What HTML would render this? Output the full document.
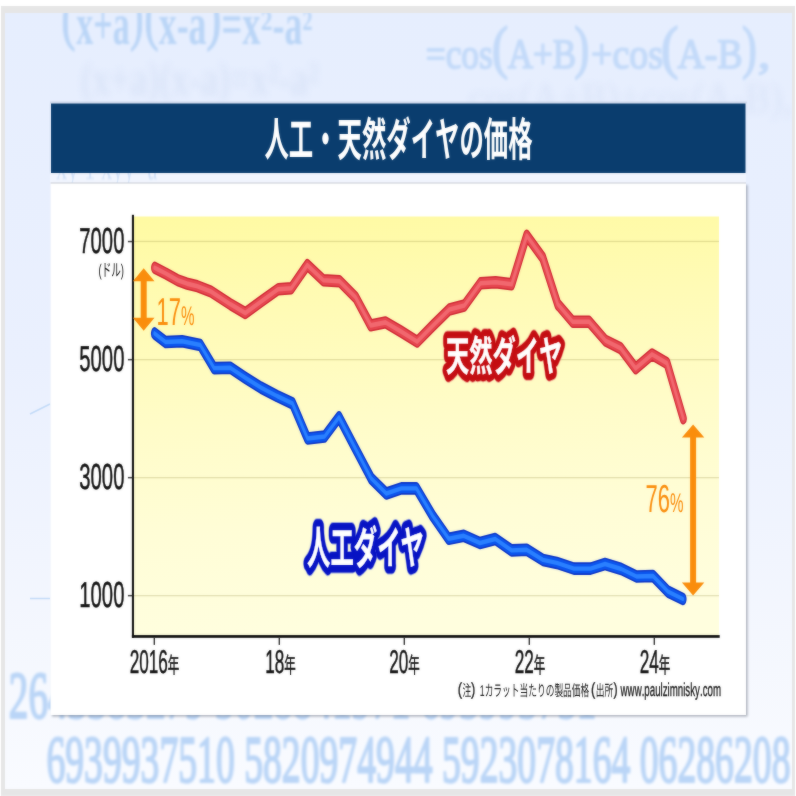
<!DOCTYPE html>
<html lang="ja"><head><meta charset="utf-8"><title>人工・天然ダイヤの価格</title>
<style>html,body{margin:0;padding:0;background:#fff;}body{width:796px;height:796px;overflow:hidden;font-family:"Liberation Sans",sans-serif;}svg{display:block;}text{font-family:"Liberation Sans",sans-serif;font-kerning:none;text-rendering:geometricPrecision;}.sans{font-family:"Liberation Sans",sans-serif;}.ser{font-family:"Liberation Serif",serif;}.cjk{font-family:"Liberation Sans","Noto Sans CJK JP",sans-serif;}</style>
</head><body>
<svg width="796" height="796" viewBox="0 0 796 796">
<defs>
<linearGradient id="bg" x1="0" y1="0" x2="0" y2="1"><stop offset="0" stop-color="#e6eefe"/><stop offset="0.45" stop-color="#eaf0fe"/><stop offset="0.8" stop-color="#f4f7fe"/><stop offset="1" stop-color="#f9fbff"/></linearGradient>
<linearGradient id="yel" x1="0" y1="0" x2="0.08" y2="1"><stop offset="0" stop-color="#fffaa2"/><stop offset="0.25" stop-color="#fffbb6"/><stop offset="0.5" stop-color="#fffcc8"/><stop offset="0.75" stop-color="#fffdd6"/><stop offset="1" stop-color="#fffede"/></linearGradient>
<filter id="b1" x="-5%" y="-20%" width="110%" height="140%"><feGaussianBlur stdDeviation="1"/></filter>
<filter id="b3" x="-5%" y="-30%" width="110%" height="160%"><feGaussianBlur stdDeviation="3 3.5"/></filter>
<filter id="sh" x="-5%" y="-5%" width="110%" height="110%"><feGaussianBlur stdDeviation="1.1"/></filter>
<filter id="soft" x="0" y="0" width="796" height="796" filterUnits="userSpaceOnUse" color-interpolation-filters="sRGB"><feGaussianBlur stdDeviation="1" result="b"/><feComposite in="SourceGraphic" in2="b" operator="arithmetic" k1="0" k2="0.62" k3="0.38" k4="0"/></filter>
<clipPath id="cbg"><rect x="5" y="13" width="787" height="776"/></clipPath>
</defs>
<rect width="796" height="796" fill="#ffffff"/>
<g filter="url(#soft)">
<rect x="1" y="6" width="794" height="790" fill="#e6e6e6"/>
<rect x="5" y="13" width="787" height="776" fill="url(#bg)"/>
<g clip-path="url(#cbg)">
<g fill="#bad5f7" filter="url(#b1)">
<text class="ser" font-weight="bold" font-size="59" transform="translate(76.3 44.3) scale(0.5760 1.0000)">x+a</text>
<text class="ser" font-weight="bold" font-size="59" transform="translate(158.7 44.3) scale(0.6088 1.0000)">x-a</text>
<text class="ser" font-weight="bold" font-size="59" transform="translate(221.5 44.3) scale(0.6164 1.0000)">=x</text>
<text class="ser" font-weight="bold" font-size="59" transform="translate(272.5 44.3) scale(0.6053 1.0000)">-a</text>
<text class="ser" font-size="62" transform="translate(61.4 38.3) scale(0.6657 1.0000)" stroke="#bad5f7" stroke-width="1.4">(</text>
<text class="ser" font-size="62" transform="translate(130.3 38.3) scale(0.6343 1.0000)" stroke="#bad5f7" stroke-width="1.4">)</text>
<text class="ser" font-size="62" transform="translate(144.5 38.3) scale(0.6719 1.0000)" stroke="#bad5f7" stroke-width="1.4">(</text>
<text class="ser" font-size="62" transform="translate(206.4 38.3) scale(0.7096 1.0000)" stroke="#bad5f7" stroke-width="1.4">)</text>
<text class="ser" font-weight="bold" font-size="28.5" transform="translate(260.7 29.9) scale(0.8285 1.0000)">2</text>
<text class="ser" font-weight="bold" font-size="28.5" transform="translate(302.4 29.9) scale(0.7017 1.0000)">2</text>
</g>
<g fill="#c3daf9" stroke="#c3daf9" stroke-width="1.6" stroke-linejoin="round" filter="url(#b1)">
<text class="ser" font-size="42" transform="translate(425.7 68) scale(0.8427 1.0000)">=cos</text>
<text class="ser" font-size="42" transform="translate(507.7 68) scale(0.8357 1.0000)">A+B</text>
<text class="ser" font-size="42" transform="translate(591.1 68) scale(0.9032 1.0000)">+cos</text>
<text class="ser" font-size="42" transform="translate(677.6 68) scale(0.8988 1.0000)">A-B</text>
<text class="ser" font-size="42" transform="translate(757.7 68) scale(1.2151 1.0000)">,</text>
<text class="ser" font-size="59" transform="translate(491.8 66.5) scale(0.8381 1.0000)">(</text>
<text class="ser" font-size="59" transform="translate(574.3 66.5) scale(0.7721 1.0000)">)</text>
<text class="ser" font-size="59" transform="translate(660.7 66.5) scale(0.9041 1.0000)">(</text>
<text class="ser" font-size="59" transform="translate(741.9 66.5) scale(0.7589 1.0000)">)</text>
</g>
<g fill="#bad5f7" stroke="#bad5f7" stroke-width="2.2" stroke-linejoin="round" filter="url(#b1)">
<text class="ser" font-size="67" transform="translate(8.8 718.2) scale(0.5847 1.0000)">2643383279 5028841971 693993751</text>
<text class="ser" font-size="67" transform="translate(46.4 782.4) scale(0.5623 1.0000)">6939937510 5820974944 5923078164 06286208</text>
</g>
<g fill="#c5d3ee" opacity="0.36" filter="url(#b3)">
<text class="ser" font-weight="bold" font-size="48" transform="translate(80.4 95) scale(0.7371 1.0000)">(x+a)(x-a)=x²-a²</text>
<text class="ser" font-size="42" transform="translate(468.5 112) scale(0.9085 1.0000)">cos(A+B)+cos(A-B),</text>
</g>
<path d="M30 414L50 404M30 598.5L50 598.5" stroke="#c3dbf8" stroke-width="1.6" fill="none"/>
</g>
<g transform="scale(0.5625 1)" fill="#b4cef3" filter="url(#b1)"><text class="ser" x="99.6" y="178.5" font-size="40">xy 1 xyy=a</text></g>
<rect x="50" y="101.5" width="697" height="2" fill="#c9d3e6" opacity="0.7"/>
<rect x="51" y="103.5" width="694.5" height="69.5" fill="#0a3d6e"/>
<text class="cjk" transform="translate(398.5 155.5) scale(0.53 1)" font-size="46" font-weight="bold" text-anchor="middle" fill="#ffffff">人工・天然ダイヤの価格</text>
<rect x="50" y="173" width="696" height="10" fill="#ffffff" opacity="0.4"/>
<rect x="52" y="185" width="695.5" height="531.5" fill="#5d6676" opacity="0.5" filter="url(#sh)"/>
<rect x="50.5" y="183" width="695.5" height="532" fill="#ffffff"/>
<rect x="50.5" y="182.5" width="695.5" height="1" fill="#c8ccd4"/>
<rect x="133" y="216.5" width="586" height="420" fill="url(#yel)"/>
<rect x="134" y="240.8" width="585" height="1.3" fill="#8a8238" opacity="0.24"/>
<rect x="134" y="359" width="585" height="1.3" fill="#8a8238" opacity="0.24"/>
<rect x="134" y="477" width="585" height="1.3" fill="#8a8238" opacity="0.24"/>
<rect x="134" y="595" width="585" height="1.3" fill="#8a8238" opacity="0.24"/>
<rect x="131.9" y="214.8" width="2.1" height="423" fill="#111111"/>
<rect x="131.9" y="635.1" width="587.8" height="2.7" fill="#0a0a0a"/>
<rect x="127.9" y="240.8" width="4.2" height="1.5" fill="#444"/>
<rect x="127.9" y="358.9" width="4.2" height="1.5" fill="#444"/>
<rect x="127.9" y="476.9" width="4.2" height="1.5" fill="#444"/>
<rect x="127.9" y="594.9" width="4.2" height="1.5" fill="#444"/>
<rect x="153.6" y="637.5" width="1.4" height="7.4" fill="#333"/>
<rect x="278.6" y="637.5" width="1.4" height="7.4" fill="#333"/>
<rect x="403.6" y="637.5" width="1.4" height="7.4" fill="#333"/>
<rect x="528.6" y="637.5" width="1.4" height="7.4" fill="#333"/>
<rect x="653.6" y="637.5" width="1.4" height="7.4" fill="#333"/>
<text class="sans" transform="translate(124.4 252.8) scale(0.5625 1)" font-size="36" text-anchor="end" fill="#111" stroke="#111" stroke-width="0.5">7000</text>
<text class="sans" transform="translate(124.4 370.8) scale(0.5625 1)" font-size="36" text-anchor="end" fill="#111" stroke="#111" stroke-width="0.5">5000</text>
<text class="sans" transform="translate(124.4 488.8) scale(0.5625 1)" font-size="36" text-anchor="end" fill="#111" stroke="#111" stroke-width="0.5">3000</text>
<text class="sans" transform="translate(124.4 606.5) scale(0.5625 1)" font-size="36" text-anchor="end" fill="#111" stroke="#111" stroke-width="0.5">1000</text>
<text class="cjk" transform="translate(124 275.5) scale(0.5625 1)" font-size="17" text-anchor="end" fill="#111">(ドル)</text>
<text class="cjk" transform="translate(154.5 673.1) scale(0.52 1)" font-size="33" text-anchor="middle" fill="#111" stroke="#111" stroke-width="0.5">2016<tspan font-size="22">年</tspan></text>
<text class="cjk" transform="translate(280.5 673.1) scale(0.52 1)" font-size="33" text-anchor="middle" fill="#111" stroke="#111" stroke-width="0.5">18<tspan font-size="22">年</tspan></text>
<text class="cjk" transform="translate(404.5 673.1) scale(0.52 1)" font-size="33" text-anchor="middle" fill="#111" stroke="#111" stroke-width="0.5">20<tspan font-size="22">年</tspan></text>
<text class="cjk" transform="translate(530 673.1) scale(0.52 1)" font-size="33" text-anchor="middle" fill="#111" stroke="#111" stroke-width="0.5">22<tspan font-size="22">年</tspan></text>
<text class="cjk" transform="translate(655 673.1) scale(0.52 1)" font-size="33" text-anchor="middle" fill="#111" stroke="#111" stroke-width="0.5">24<tspan font-size="22">年</tspan></text>
<g transform="scale(0.5625 1)" fill="none" stroke-linecap="round" stroke-linejoin="round">
<path d="M274.8 267.8L295.1 273.6L315.9 280.2L332.4 283.6L350.8 286.2L374.9 291.5L409.8 304.3L436.1 313L465.8 300.8L494.6 289.2L517.9 288.2L546.3 265.1L574.9 280.2L603.6 281.2L632.2 297.3L659 325.4L685.3 322.4L712.9 331.5L741.7 341.6L769.8 325.5L798.8 309.5L825.6 305.5L854.2 283.3L881.1 282.3L909.7 284.3L936.4 235.6L964.8 257.7L991.5 304.2L1018.3 321.8L1047.3 321.8L1076.4 340.6L1103.3 348.2L1130 368.3L1159.1 354.4L1185.8 363.2L1214.6 418.3" stroke="#cf2633" stroke-width="12.4"/>
<path d="M274.8 267.8L295.1 273.6L315.9 280.2L332.4 283.6L350.8 286.2L374.9 291.5L409.8 304.3L436.1 313L465.8 300.8L494.6 289.2L517.9 288.2L546.3 265.1L574.9 280.2L603.6 281.2L632.2 297.3L659 325.4L685.3 322.4L712.9 331.5L741.7 341.6L769.8 325.5L798.8 309.5L825.6 305.5L854.2 283.3L881.1 282.3L909.7 284.3L936.4 235.6L964.8 257.7L991.5 304.2L1018.3 321.8L1047.3 321.8L1076.4 340.6L1103.3 348.2L1130 368.3L1159.1 354.4L1185.8 363.2L1214.6 418.3" stroke="#e6464f" stroke-width="9.4"/>
<path d="M274.8 267.8L295.1 273.6L315.9 280.2L332.4 283.6L350.8 286.2L374.9 291.5L409.8 304.3L436.1 313L465.8 300.8L494.6 289.2L517.9 288.2L546.3 265.1L574.9 280.2L603.6 281.2L632.2 297.3L659 325.4L685.3 322.4L712.9 331.5L741.7 341.6L769.8 325.5L798.8 309.5L825.6 305.5L854.2 283.3L881.1 282.3L909.7 284.3L936.4 235.6L964.8 257.7L991.5 304.2L1018.3 321.8L1047.3 321.8L1076.4 340.6L1103.3 348.2L1130 368.3L1159.1 354.4L1185.8 363.2L1214.6 418.3" stroke="#f1686f" stroke-width="4.6"/>
<path d="M274.8 333.4L294.4 342L323.9 341.2L356.1 345L380.6 368.1L409.2 367.7L435.6 377.6L464 387.6L492.4 396L520 403.3L546.7 438.5L577.1 436.5L602.7 417.2L631.1 447.8L659.9 478.4L686.8 493.5L713.6 488.4L740.3 488.4L768.9 515.6L797.7 538.8L824.5 535.8L853.3 543L880.5 539L909.5 550.4L936.4 549.8L965.3 559.9L989.9 562.9L1020.4 568.6L1049.8 568.6L1075.6 564L1104.5 569L1131.7 576.5L1160.9 576L1187.6 591.6L1214.2 599" stroke="#0a33c6" stroke-width="12.6"/>
<path d="M274.8 333.4L294.4 342L323.9 341.2L356.1 345L380.6 368.1L409.2 367.7L435.6 377.6L464 387.6L492.4 396L520 403.3L546.7 438.5L577.1 436.5L602.7 417.2L631.1 447.8L659.9 478.4L686.8 493.5L713.6 488.4L740.3 488.4L768.9 515.6L797.7 538.8L824.5 535.8L853.3 543L880.5 539L909.5 550.4L936.4 549.8L965.3 559.9L989.9 562.9L1020.4 568.6L1049.8 568.6L1075.6 564L1104.5 569L1131.7 576.5L1160.9 576L1187.6 591.6L1214.2 599" stroke="#0b55ee" stroke-width="9.4"/>
<path d="M274.8 333.4L294.4 342L323.9 341.2L356.1 345L380.6 368.1L409.2 367.7L435.6 377.6L464 387.6L492.4 396L520 403.3L546.7 438.5L577.1 436.5L602.7 417.2L631.1 447.8L659.9 478.4L686.8 493.5L713.6 488.4L740.3 488.4L768.9 515.6L797.7 538.8L824.5 535.8L853.3 543L880.5 539L909.5 550.4L936.4 549.8L965.3 559.9L989.9 562.9L1020.4 568.6L1049.8 568.6L1075.6 564L1104.5 569L1131.7 576.5L1160.9 576L1187.6 591.6L1214.2 599" stroke="#2a80ff" stroke-width="4.4"/>
</g>
<path fill="#fa8d0c" d="M143.7 268.2 L154.5 281.2 L146.7 281.2 L146.7 317.8 L154.5 317.8 L143.7 330.8 L132.9 317.8 L140.7 317.8 L140.7 281.2 L132.9 281.2 Z"/>
<path fill="#fa8d0c" d="M693.1 424.6 L704.3 437.6 L696.1 437.6 L696.1 582.4 L704.3 582.4 L693.1 595.4 L681.9 582.4 L690.1 582.4 L690.1 437.6 L681.9 437.6 Z"/>
<text class="sans" transform="translate(156.5 324.6) scale(0.5625 1)" font-size="39" fill="#fa8d0c">17<tspan font-size="27">%</tspan></text>
<text class="sans" transform="translate(645.5 511.7) scale(0.5625 1)" font-size="39" fill="#fa8d0c">76<tspan font-size="27">%</tspan></text>
<g stroke-linejoin="round" font-weight="bold" font-size="41.5">
<text class="cjk" transform="translate(446 370.6) scale(0.56 1)" fill="none" stroke="#e0595c" stroke-opacity="0.55" stroke-width="16">天然ダイヤ</text>
<text class="cjk" transform="translate(446 370.6) scale(0.56 1)" fill="none" stroke="#c40d12" stroke-width="14">天然ダイヤ</text>
<text class="cjk" transform="translate(446 370.6) scale(0.56 1)" fill="#ffffff" stroke="#ffffff" stroke-width="0.4">天然ダイヤ</text>
</g>
<g stroke-linejoin="round" font-weight="bold" font-size="45">
<text class="cjk" transform="translate(307 563.6) scale(0.52 1)" fill="none" stroke="#4a62e0" stroke-opacity="0.55" stroke-width="17">人工ダイヤ</text>
<text class="cjk" transform="translate(307 563.6) scale(0.52 1)" fill="none" stroke="#0713c4" stroke-width="15">人工ダイヤ</text>
<text class="cjk" transform="translate(307 563.6) scale(0.52 1)" fill="#ffffff" stroke="#ffffff" stroke-width="0.4">人工ダイヤ</text>
</g>
<g fill="#1a1a1a">
<text class="cjk" font-size="15.5" transform="translate(462.6 695.5) scale(0.5625 1)">注</text>
<text class="cjk" font-size="15.5" transform="translate(479.8 695.5) scale(0.5625 1)">1カラット当たりの製品価格</text>
<text class="cjk" font-size="15.5" transform="translate(595.7 695.5) scale(0.5625 1)">出所</text>
</g>
<g fill="#1a1a1a" stroke="#1a1a1a" stroke-width="0.35">
<text class="sans" font-size="17.5" transform="translate(457.8 695) scale(0.7543 1.0000)">(</text>
<text class="sans" font-size="17.5" transform="translate(471.1 695) scale(0.7328 1.0000)">)</text>
<text class="sans" font-size="17.5" transform="translate(590.9 695) scale(0.7328 1.0000)">(</text>
<text class="sans" font-size="17.5" transform="translate(613.4 695) scale(0.7112 1.0000)">)</text>
<text class="sans" font-size="18.6" transform="translate(620.6 696) scale(0.5224 1.0000)">www.paulzimnisky.com</text>
</g>
</g>
</svg>
</body></html>
